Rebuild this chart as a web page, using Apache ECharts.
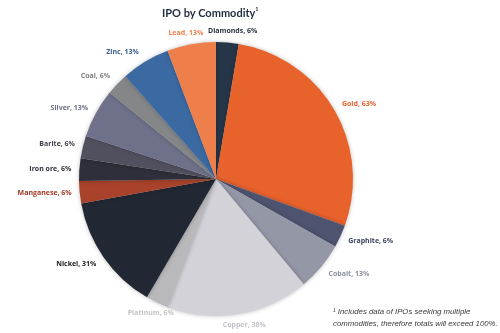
<!DOCTYPE html>
<html>
<head>
<meta charset="utf-8">
<script src="https://cdn.jsdelivr.net/npm/echarts@6/dist/echarts.min.js"></script>
<style>
  html, body { margin: 0; padding: 0; background: #ffffff; }
  #chart { width: 500px; height: 333px; }
</style>
</head>
<body>
<div id="chart"></div>
<script>
// Share of IPOs by commodity (percent; an IPO may list several commodities)
const commodities = ['Diamonds', 'Gold', 'Graphite', 'Cobalt', 'Copper', 'Platinum', 'Nickel',
                     'Manganese', 'Iron ore', 'Barite', 'Silver', 'Coal', 'Zinc', 'Lead'];
const shares = [6, 63, 6, 13, 38, 6, 31, 6, 6, 6, 13, 6, 13, 13];

// Slice fills and label colours, in the same order as the commodities
const sliceColors = ['#263548', '#E8622C', '#4E5470', '#9497A6', '#D3D2D9', '#B9B9BB', '#222833',
                     '#A8422A', '#2E2F3A', '#50505F', '#6E7189', '#858687', '#3B6AA3', '#EE7F4B'];
const labelColors = ['#2B3444', '#E0622E', '#3E4660', '#8E90A0', '#C2C2CA', '#C4C4C8', '#222222',
                     '#A03A25', '#2E2F3A', '#3F3F4F', '#6E7189', '#7E7F80', '#3A5E91', '#EE7F4B'];

// Labels sitting near the top or bottom of the pie are centred on their anchor
const centredLabels = ['Diamonds', 'Lead', 'Copper', 'Platinum'];

const CY = 179;
const chart = echarts.init(document.getElementById('chart'), null, { renderer: 'canvas' });

chart.setOption({
  animation: false,
  backgroundColor: '#ffffff',
  title: {
    text: '{t|IPO by Commodity}{s|1}',
    left: 157,
    top: 1,
    textStyle: {
      rich: {
        t: { fontFamily: 'Lato', fontWeight: 'bold', fontSize: 11, color: '#1F2B3F' },
        s: { fontFamily: 'Lato', fontWeight: 'bold', fontSize: 5.5, color: '#1F2B3F', padding: [0, 0, 8, 0] }
      }
    }
  },
  graphic: [{
    type: 'text',
    left: 333,
    top: 306,
    style: {
      text: '\u00B9 Includes data of IPOs seeking multiple\ncommodities, therefore totals will exceed 100%.',
      font: 'italic 7.8px "Liberation Sans", Arial, sans-serif',
      fill: '#3a3a3a',
      lineHeight: 12
    }
  }],
  series: [{
    type: 'pie',
    center: [216, CY],
    radius: 137,
    startAngle: 90,
    clockwise: true,
    avoidLabelOverlap: false,
    data: commodities.map((name, i) => ({
      name: name,
      value: shares[i],
      itemStyle: { color: sliceColors[i] },
      label: { color: labelColors[i] }
    })),
    itemStyle: {
      shadowBlur: 4,
      shadowColor: 'rgba(0,0,0,0.25)'
    },
    label: {
      show: true,
      position: 'outside',
      formatter: p => p.name + ', ' + p.value + '%',
      fontFamily: 'Open Sans',
      fontWeight: 'bold',
      fontSize: 7
    },
    labelLine: { show: false, length: 3, length2: 0 },
    labelLayout: function (params) {
      const r = params.labelRect;
      const midY = r.y + r.height / 2;
      const out = { dy: (midY - CY) * 0.06 };
      if (centredLabels.indexOf(commodities[params.dataIndex]) >= 0) {
        out.align = 'center';
      }
      return out;
    },
    emphasis: { disabled: true }
  }]
});
</script>
</body>
</html>
